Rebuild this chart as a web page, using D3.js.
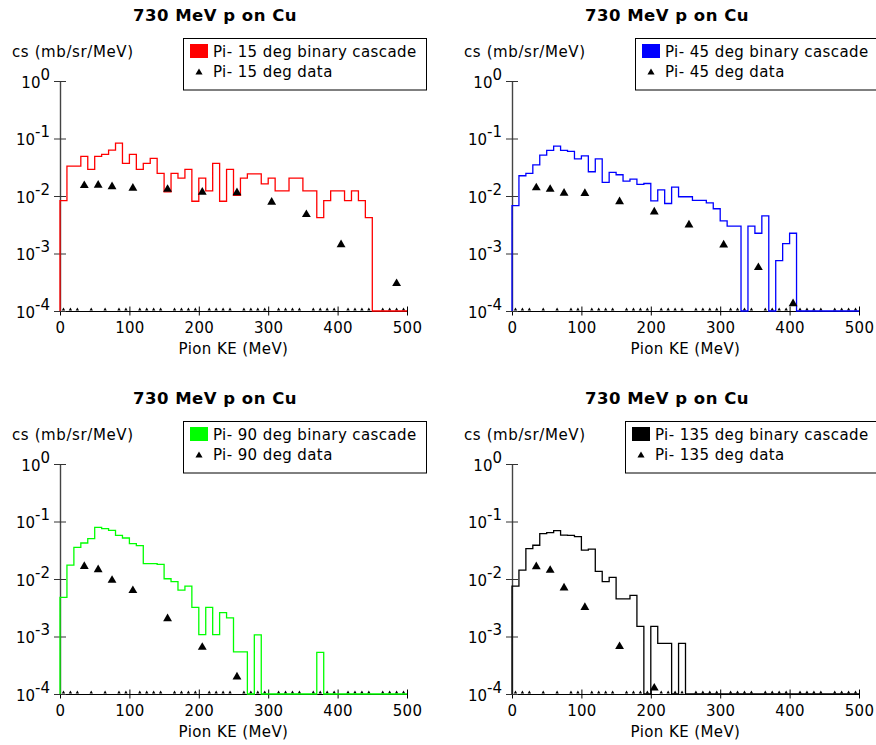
<!DOCTYPE html>
<html>
<head>
<meta charset="utf-8">
<script src="https://cdn.jsdelivr.net/npm/d3@7"></script>
<style>
  body { margin: 0; background: #fff; }
  text { font-family: "DejaVu Sans", Verdana, sans-serif; }
</style>
</head>
<body>
<div id="chart"></div>
<script>
// step 0 the data
const angles = [15, 45, 90, 135];
const lineColors = ["#ff0000", "#0000ff", "#00ff00", "#000000"];
const titleText = "730 MeV p on Cu";
const xTicks = [0, 100, 200, 300, 400, 500];
const yTickExps = [0, -1, -2, -3, -4];

// binary cascade histograms, 10 MeV bins from 0 to 500 MeV
const cascade15 = [0.0083, 0.033, 0.033, 0.049, 0.029, 0.049, 0.053, 0.063, 0.083, 0.037,
  0.053, 0.029, 0.037, 0.045, 0.0247, 0.0118, 0.0247, 0.0204, 0.029, 0.0081,
  0.0204, 0.0123, 0.037, 0.0081, 0.029, 0.0103, 0.0204, 0.0243, 0.0243, 0.0163,
  0.0204, 0.0123, 0.0123, 0.0204, 0.0204, 0.0123, 0.0123, 0.0042, 0.0083, 0.0123,
  0.0123, 0.0083, 0.0123, 0.0083, 0.0042, 0, 0, 0, 0, 0];
const cascade45 = [0.0068, 0.0225, 0.0247, 0.0349, 0.0514, 0.062, 0.0738, 0.062, 0.0596, 0.0444,
  0.050, 0.0264, 0.0444, 0.0172, 0.0257, 0.0234, 0.0181, 0.0196, 0.0159, 0.0165,
  0.0082, 0.0128, 0.0074, 0.0143, 0.0097, 0.0097, 0.0084, 0.0084, 0.0076, 0.006,
  0.0037, 0.0030, 0.0030, 0, 0.0030, 0.00225, 0.0045, 0, 0.00075, 0.00149,
  0.00225, 0, 0, 0, 0, 0, 0, 0, 0, 0];
const cascade90 = [0.0048, 0.0175, 0.0355, 0.0423, 0.0503, 0.079, 0.075, 0.070, 0.0572, 0.0516,
  0.0411, 0.038, 0.0185, 0.0185, 0.018, 0.0101, 0.009, 0.0064, 0.0075, 0.0032,
  0.00108, 0.0032, 0.00108, 0.0026, 0.0021, 0.00054, 0.00054, 0, 0.00107, 0,
  0, 0, 0, 0, 0, 0, 0, 0.00053, 0, 0,
  0, 0, 0, 0, 0, 0, 0, 0, 0, 0];
const cascade135 = [0.0075, 0.0143, 0.0337, 0.0386, 0.0614, 0.064, 0.0693, 0.058, 0.0572, 0.0545,
  0.0319, 0.0332, 0.0136, 0.009, 0.0107, 0.0045, 0.0045, 0.0052, 0.0015, 0,
  0.0015, 0.00076, 0.00076, 0, 0.00076, 0, 0, 0, 0, 0,
  0, 0, 0, 0, 0, 0, 0, 0, 0, 0,
  0, 0, 0, 0, 0, 0, 0, 0, 0, 0];

// measured points
const dataKE15 = [35, 55, 75, 105, 155, 205, 255, 305, 355, 405, 485];
const data15 = [0.0152, 0.0154, 0.0145, 0.0137, 0.0131, 0.0117, 0.0114, 0.0078, 0.00476, 0.00143, 0.0003];
const dataKE45 = [35, 55, 75, 105, 155, 205, 255, 305, 355, 405];
const data45 = [0.0139, 0.0131, 0.0112, 0.0111, 0.0080, 0.0053, 0.00315, 0.00141, 0.00057, 0.000134];
const dataKE90 = [35, 55, 75, 105, 155, 205, 255];
const data90 = [0.0166, 0.0145, 0.0095, 0.0063, 0.00204, 0.00065, 0.000198];
const dataKE135 = [35, 55, 75, 105, 155, 205];
const data135 = [0.0164, 0.0142, 0.0070, 0.0032, 0.00067, 0.000127];

// zero-valued points sitting on the floor of the log axis
const floorKE = [5, 15, 25, 45, 65, 85, 95, 115, 125, 135, 145, 165, 175, 185, 195,
  215, 225, 235, 245, 265, 275, 285, 295, 315, 325, 335, 345, 365, 375, 385, 395,
  415, 425, 435, 445, 465, 475, 485, 495];

const cascades = [cascade15, cascade45, cascade90, cascade135];
const dataKE = [dataKE15, dataKE45, dataKE90, dataKE135];
const dataCS = [data15, data45, data90, data135];

// step 1 svg and layout
const W = 876, H = 745;
const svg = d3.select("#chart").append("svg")
  .attr("width", W)
  .attr("height", H);

const panelOffsets = [[0, 0], [452, 0], [0, 383], [452, 383]];
const binWidth = 10;
const yFloor = 1e-4;

// step 2 scales (same for every panel)
const x = d3.scaleLinear().domain([0, 500]).range([60, 407]);
const y = d3.scaleLog().domain([yFloor, 1]).range([311, 81]);

const tri = d3.symbol().type(d3.symbolTriangle);

angles.forEach(function (angle, p) {
  const g = svg.append("g")
    .attr("transform", "translate(" + panelOffsets[p][0] + "," + panelOffsets[p][1] + ")");

  // title
  g.append("text")
    .attr("x", 215)
    .attr("y", 21)
    .attr("text-anchor", "middle")
    .style("font-size", "16.5px")
    .style("font-weight", "bold")
    .style("letter-spacing", "0.5px")
    .text(titleText);

  // y label
  g.append("text")
    .attr("x", 12)
    .attr("y", 57)
    .style("font-size", "15px")
    .style("letter-spacing", "0.6px")
    .text("cs (mb/sr/MeV)");

  // x axis
  const xAxis = d3.axisBottom(x).tickValues(xTicks).tickSizeOuter(0).tickFormat("");
  const xg = g.append("g")
    .attr("transform", "translate(0," + y(yFloor) + ")")
    .call(xAxis);
  xg.select(".domain").attr("stroke", "#000");
  xg.selectAll(".tick line").attr("y1", -4.5).attr("y2", 4.5).attr("stroke", "#000");
  xg.selectAll(".tick").append("text")
    .attr("y", 22)
    .attr("dy", 0)
    .attr("fill", "#000")
    .style("font-size", "15px")
    .style("letter-spacing", "0.3px")
    .attr("text-anchor", "middle")
    .text(d => d);

  g.append("text")
    .attr("x", (x.range()[0] + x.range()[1]) / 2)
    .attr("y", 354)
    .attr("text-anchor", "middle")
    .style("font-size", "15px")
    .style("letter-spacing", "0.4px")
    .text("Pion KE (MeV)");

  // y axis
  const yAxis = d3.axisLeft(y)
    .tickValues(yTickExps.map(e => Math.pow(10, e)))
    .tickSizeOuter(0)
    .tickFormat("");
  const yg = g.append("g")
    .attr("transform", "translate(" + x(0) + ",0)")
    .call(yAxis);
  yg.select(".domain").attr("stroke", "#444").attr("stroke-width", 1.4);
  yg.selectAll(".tick line").attr("x1", -6).attr("x2", 6).attr("stroke", "#333");
  const yl = yg.selectAll(".tick").append("text")
    .attr("x", -10)
    .attr("y", 6)
    .attr("dy", 0)
    .attr("fill", "#000")
    .attr("text-anchor", "end")
    .style("font-size", "15px");
  yl.append("tspan").text("10");
  yl.append("tspan")
    .attr("dy", -8)
    .text(d => Math.round(Math.log10(d)));

  // floor markers
  g.selectAll(".floor")
    .data(floorKE)
    .enter()
    .append("path")
    .attr("class", "floor")
    .attr("d", tri.size(5)())
    .attr("transform", d => "translate(" + x(d) + "," + (y(yFloor) - 1.5) + ")")
    .attr("fill", "#000");

  // step 3 histogram
  const vals = cascades[p];
  const pts = [[0, yFloor]];
  vals.forEach(function (v, i) { pts.push([i * binWidth, Math.max(v, yFloor)]); });
  pts.push([vals.length * binWidth, Math.max(vals[vals.length - 1], yFloor)]);

  const line = d3.line()
    .x(d => x(d[0]))
    .y(d => y(d[1]))
    .curve(d3.curveStepAfter);

  g.append("path")
    .datum(pts)
    .attr("d", line)
    .attr("fill", "none")
    .attr("stroke", lineColors[p])
    .attr("stroke-width", 1.3);

  // step 4 data points
  g.selectAll(".pt")
    .data(dataKE[p].map((k, i) => [k, dataCS[p][i]]))
    .enter()
    .append("path")
    .attr("class", "pt")
    .attr("d", tri.size(34)())
    .attr("transform", d => "translate(" + x(d[0]) + "," + y(d[1]) + ")")
    .attr("fill", "#000");

  // step 5 legend, right edge fixed, width from the text
  const lg = g.append("g");
  const box = lg.append("rect")
    .attr("height", 51.5)
    .attr("fill", "#fff")
    .attr("stroke", "#000")
    .attr("stroke-width", 1);
  lg.append("rect")
    .attr("x", 6.5)
    .attr("y", 5.5)
    .attr("width", 18)
    .attr("height", 14)
    .attr("fill", lineColors[p]);
  const t1 = lg.append("text")
    .attr("x", 29.5)
    .attr("y", 18.5)
    .style("font-size", "15px")
    .style("letter-spacing", "0.4px")
    .text("Pi- " + angle + " deg binary cascade");
  lg.append("path")
    .attr("d", tri.size(22)())
    .attr("transform", "translate(15.5,34)")
    .attr("fill", "#000");
  lg.append("text")
    .attr("x", 29.5)
    .attr("y", 38.5)
    .style("font-size", "15px")
    .style("letter-spacing", "0.4px")
    .text("Pi- " + angle + " deg data");

  const boxW = Math.round(29.5 + t1.node().getComputedTextLength() + 10);
  box.attr("width", boxW);
  lg.attr("transform", "translate(" + (x(0) + 367 - boxW - 0.5) + ",38.5)");
});
</script>
</body>
</html>
